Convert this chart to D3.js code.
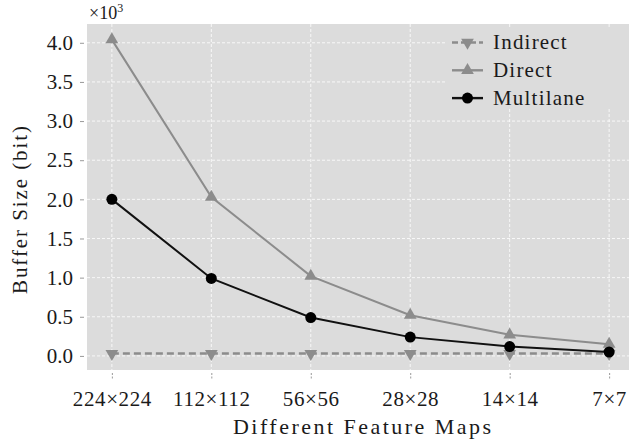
<!DOCTYPE html>
<meta charset="utf-8">
<style>
  body { margin: 0; background: #fff; }
  text { font-family: "Liberation Serif", "DejaVu Serif", "Times New Roman", serif; fill: #1a1a1a; }
</style>
<body>
  <script src="https://d3js.org/d3.v7.min.js"></script>
  <script>
    var categories = ["224×224", "112×112", "56×56", "28×28", "14×14", "7×7"];
    var indirect = [0.03, 0.03, 0.03, 0.03, 0.03, 0.03];
    var direct = [4.04, 2.03, 1.02, 0.52, 0.27, 0.15];
    var multilane = [2.0, 0.99, 0.49, 0.24, 0.12, 0.05];
    var yTicks = [0, 0.5, 1.0, 1.5, 2.0, 2.5, 3.0, 3.5, 4.0];

    var W = 629, H = 443;
    var margin = { top: 24, right: -5, bottom: 73, left: 87 },
      width = W - margin.left - margin.right,
      height = H - margin.top - margin.bottom;

    var fontFam = "'Liberation Serif', 'DejaVu Serif', serif";

    var svg = d3.select("body").append("svg")
      .attr("width", W)
      .attr("height", H);

    var g = svg.append("g")
      .attr("transform", "translate(" + margin.left + "," + margin.top + ")");

    // index scale with 5% padding on each side
    var x = d3.scaleLinear().domain([-0.25, 5.25]).range([0, width]);
    var y = d3.scaleLinear().domain([-0.18, 4.24]).range([height, 0]);

    g.append("rect")
      .attr("width", width)
      .attr("height", height)
      .style("fill", "#dcdcdc");

    // grid
    g.selectAll(".hgrid")
      .data(yTicks)
      .enter().append("line")
      .attr("x1", 0).attr("x2", width)
      .attr("y1", function(d) { return y(d); })
      .attr("y2", function(d) { return y(d); })
      .style("stroke", "#fff")
      .style("stroke-width", 0.8)
      .style("stroke-dasharray", "3,2");

    g.selectAll(".vgrid")
      .data(categories)
      .enter().append("line")
      .attr("y1", 0).attr("y2", height)
      .attr("x1", function(d, i) { return x(i); })
      .attr("x2", function(d, i) { return x(i); })
      .style("stroke", "#fff")
      .style("stroke-width", 0.8)
      .style("stroke-dasharray", "3,2");

    // x axis
    var xAxis = d3.axisBottom(x)
      .tickValues(d3.range(categories.length))
      .tickFormat(function(i) { return categories[i]; })
      .tickSize(6)
      .tickPadding(12);
    var gx = g.append("g")
      .attr("transform", "translate(0," + (height + 3) + ")")
      .call(xAxis);
    gx.select(".domain").remove();
    gx.selectAll("line").style("stroke", "#999").style("stroke-dasharray", "2,1.5");
    gx.selectAll("text")
      .style("font-size", "21px")
      .style("letter-spacing", "0.6px")
      .style("font-family", fontFam)
      .style("fill", "#1a1a1a");

    // y axis
    var yAxis = d3.axisLeft(y)
      .tickValues(yTicks)
      .tickFormat(d3.format(".1f"))
      .tickSize(4)
      .tickPadding(7);
    var gy = g.append("g")
      .attr("transform", "translate(-3,0)")
      .call(yAxis);
    gy.select(".domain").remove();
    gy.selectAll("line").style("stroke", "#999");
    gy.selectAll("text")
      .style("font-size", "21px")
      .style("font-family", fontFam)
      .style("fill", "#1a1a1a");

    // axis labels
    svg.append("text")
      .attr("x", 362)
      .attr("y", 434)
      .attr("text-anchor", "middle")
      .attr("textLength", 258)
      .attr("lengthAdjust", "spacing")
      .style("font-size", "22px")
      .text("Different Feature Maps");

    svg.append("text")
      .attr("transform", "translate(27,210) rotate(-90)")
      .attr("text-anchor", "middle")
      .attr("textLength", 168)
      .attr("lengthAdjust", "spacing")
      .style("font-size", "21px")
      .text("Buffer Size (bit)");

    var mult = svg.append("text")
      .attr("x", 89)
      .attr("y", 19)
      .style("font-size", "18px");
    mult.append("tspan").text("×10");
    mult.append("tspan").attr("dy", -7).style("font-size", "12px").text("3");

    // series
    var line = d3.line()
      .x(function(d, i) { return x(i); })
      .y(function(d) { return y(d); });

    var tri = d3.symbol().type(d3.symbolTriangle).size(70);

    g.append("path")
      .datum(indirect)
      .attr("d", line)
      .style("fill", "none")
      .style("stroke", "#8c8c8c")
      .style("stroke-width", 2.4)
      .style("stroke-dasharray", "7,4");
    g.selectAll(".ind")
      .data(indirect)
      .enter().append("path")
      .attr("d", tri)
      .attr("transform", function(d, i) { return "translate(" + x(i) + "," + y(d) + ") rotate(180)"; })
      .style("fill", "#8c8c8c");

    g.append("path")
      .datum(direct)
      .attr("d", line)
      .style("fill", "none")
      .style("stroke", "#8c8c8c")
      .style("stroke-width", 2);
    g.selectAll(".dir")
      .data(direct)
      .enter().append("path")
      .attr("d", tri)
      .attr("transform", function(d, i) { return "translate(" + x(i) + "," + y(d) + ")"; })
      .style("fill", "#8c8c8c");

    g.append("path")
      .datum(multilane)
      .attr("d", line)
      .style("fill", "none")
      .style("stroke", "#111")
      .style("stroke-width", 2);
    g.selectAll(".mul")
      .data(multilane)
      .enter().append("circle")
      .attr("cx", function(d, i) { return x(i); })
      .attr("cy", function(d) { return y(d); })
      .attr("r", 5.5)
      .style("fill", "#000");

    // legend
    var leg = svg.append("g").attr("transform", "translate(447,28)");
    leg.append("rect")
      .attr("width", 190)
      .attr("height", 79)
      .style("fill", "#dcdcdc");

    var items = [
      { name: "Indirect", color: "#8c8c8c", dash: "6,3", mark: "down" },
      { name: "Direct", color: "#8c8c8c", dash: null, mark: "up" },
      { name: "Multilane", color: "#111", dash: null, mark: "circle" }
    ];
    items.forEach(function(it, i) {
      var row = leg.append("g").attr("transform", "translate(0," + (14.5 + i * 27.8) + ")");
      row.append("line")
        .attr("x1", 5).attr("x2", 36)
        .style("stroke", it.color)
        .style("stroke-width", 2.4)
        .style("stroke-dasharray", it.dash);
      if (it.mark === "circle") {
        row.append("circle").attr("cx", 20.5).attr("r", 5.5).style("fill", "#000");
      } else {
        row.append("path")
          .attr("d", tri)
          .attr("transform", "translate(20.5,0)" + (it.mark === "down" ? " rotate(180)" : ""))
          .style("fill", it.color);
      }
      row.append("text")
        .attr("x", 46)
        .attr("dy", "0.33em")
        .style("font-size", "21px")
        .style("letter-spacing", "1.2px")
        .text(it.name);
    });
  </script>
</body>
